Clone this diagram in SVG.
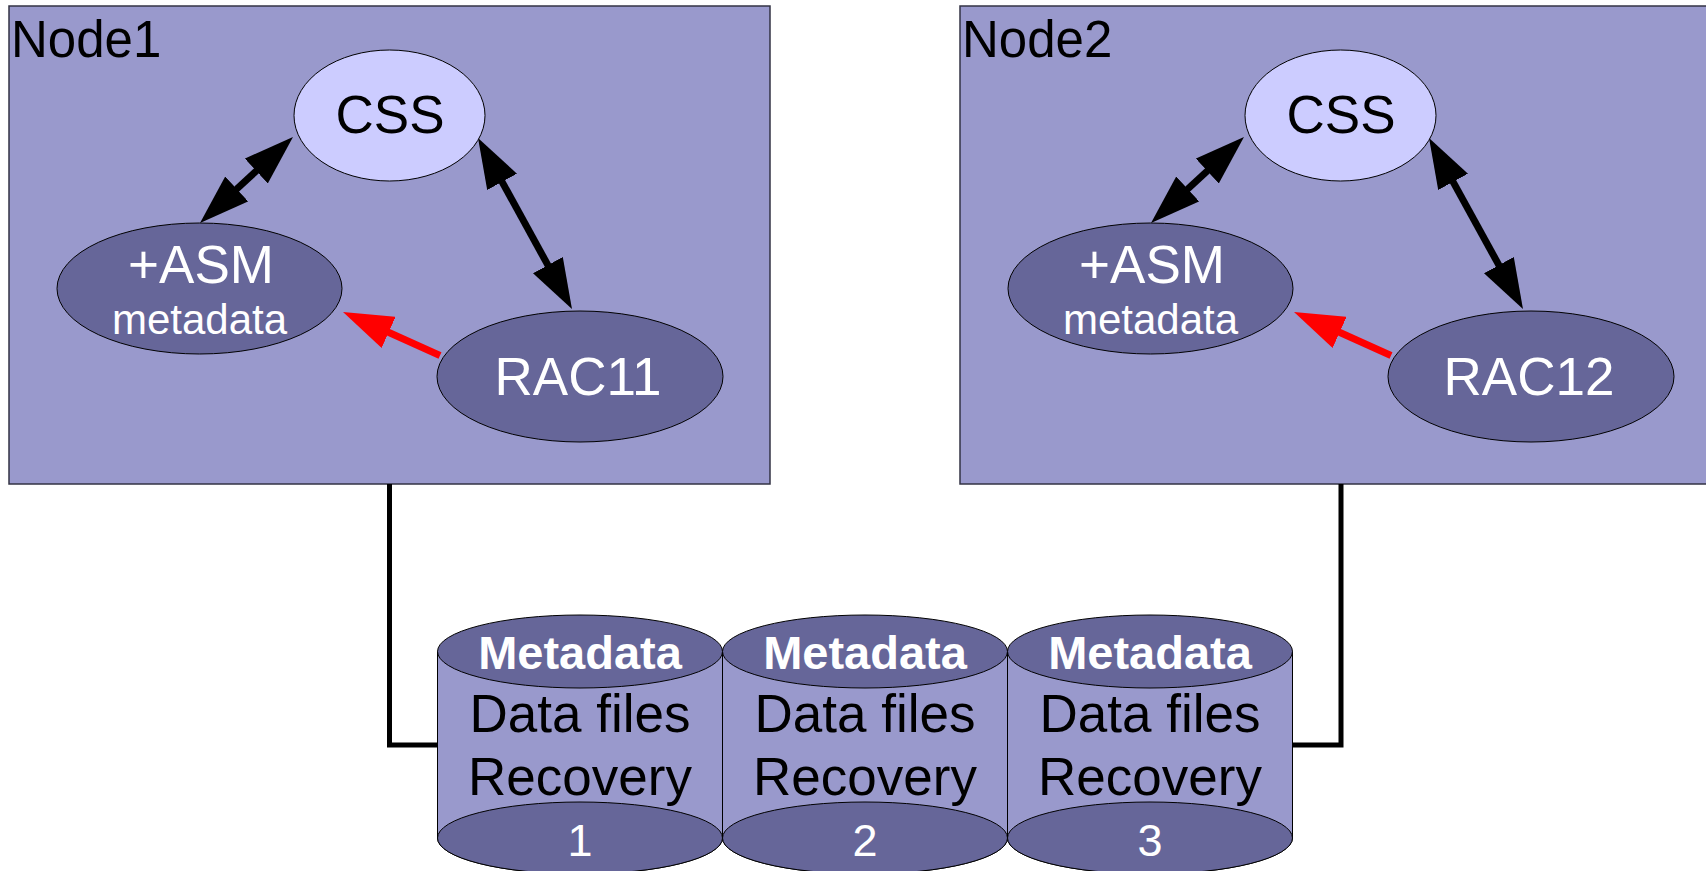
<svg xmlns="http://www.w3.org/2000/svg" width="1706" height="871" viewBox="0 0 1706 871">
<style>
.box{fill:#9999cc;stroke:#333344;stroke-width:1.5}
.css{fill:#ccccff;stroke:#000;stroke-width:1}
.dark{fill:#666699;stroke:#000;stroke-width:1}
.body{fill:#9999cc;stroke:#000;stroke-width:1}
text{font-family:"Liberation Sans",Arial,sans-serif}
.lbl{font-size:51px;fill:#000}
.w51{font-size:53px;fill:#fff;text-anchor:middle}
.w42{font-size:42px;fill:#fff;text-anchor:middle}
.b51{font-size:53px;fill:#000;text-anchor:middle}
.meta{font-size:47px;font-weight:bold;fill:#fff;text-anchor:middle}
.num{font-size:45px;fill:#fff;text-anchor:middle}
.blk{stroke:#000;stroke-width:7;fill:none}
.red{stroke:#ff0000;stroke-width:7;fill:none}
.wire{stroke:#000;stroke-width:5;fill:none}
</style>
<defs>
<marker id="ah" markerUnits="userSpaceOnUse" markerWidth="50" markerHeight="34" refX="10" refY="17" orient="auto-start-reverse" viewBox="0 0 50 34">
<path d="M0,0 L50,17 L0,34 Z" fill="#000"/>
</marker>
<marker id="ahr" markerUnits="userSpaceOnUse" markerWidth="50" markerHeight="34" refX="10" refY="17" orient="auto" viewBox="0 0 50 34">
<path d="M0,0 L50,17 L0,34 Z" fill="#ff0000"/>
</marker>
</defs>
<g id="node1">
<rect class="box" x="9" y="6" width="761" height="478"/>
<text class="lbl" x="11" y="57">Node1</text>
</g>
<g id="node2">
<rect class="box" x="960" y="6" width="761" height="478"/>
<text class="lbl" x="962" y="57">Node2</text>
</g>
<g id="connectors">
<line class="blk" x1="229.4" y1="195.8" x2="263.6" y2="164.2" marker-start="url(#ah)" marker-end="url(#ah)"/>
<line class="blk" x1="497.3" y1="173.1" x2="552.7" y2="273.9" marker-start="url(#ah)" marker-end="url(#ah)"/>
<line class="red" x1="440" y1="355.5" x2="379.5" y2="328.3" marker-end="url(#ahr)"/>
<line class="blk" x1="1180.4" y1="195.8" x2="1214.6" y2="164.2" marker-start="url(#ah)" marker-end="url(#ah)"/>
<line class="blk" x1="1448.3" y1="173.1" x2="1503.7" y2="273.9" marker-start="url(#ah)" marker-end="url(#ah)"/>
<line class="red" x1="1391" y1="355.5" x2="1330.5" y2="328.3" marker-end="url(#ahr)"/>
<polyline class="wire" points="389.5,484 389.5,745 437.5,745"/>
<polyline class="wire" points="1341,484 1341,745 1292.5,745"/>
</g>
<g id="css1">
<ellipse class="css" cx="389.5" cy="115.5" rx="95.5" ry="65.5"/>
<text class="b51" x="390" y="133">CSS</text>
</g>
<g id="asm1">
<ellipse class="dark" cx="199.5" cy="288.5" rx="142.5" ry="65.5"/>
<text class="w51" x="201" y="283">+ASM</text>
<text class="w42" x="199.5" y="334">metadata</text>
</g>
<g id="rac11">
<ellipse class="dark" cx="580" cy="376.5" rx="143" ry="65.5"/>
<text class="w51" x="578" y="395">RAC11</text>
</g>
<g id="css2">
<ellipse class="css" cx="1340.5" cy="115.5" rx="95.5" ry="65.5"/>
<text class="b51" x="1341" y="133">CSS</text>
</g>
<g id="asm2">
<ellipse class="dark" cx="1150.5" cy="288.5" rx="142.5" ry="65.5"/>
<text class="w51" x="1152" y="283">+ASM</text>
<text class="w42" x="1150.5" y="334">metadata</text>
</g>
<g id="rac12">
<ellipse class="dark" cx="1531" cy="376.5" rx="143" ry="65.5"/>
<text class="w51" x="1529" y="395">RAC12</text>
</g>
<g id="disk1">
<path class="body" d="M437.5,651.5 V838 A142.5,36 0 0 0 722.5,838 V651.5 Z"/>
<ellipse class="dark" cx="580" cy="838" rx="142.5" ry="36"/>
<ellipse class="dark" cx="580" cy="651.5" rx="142.5" ry="36.5"/>
<text class="meta" x="580" y="669">Metadata</text>
<text class="b51" x="580" y="732">Data files</text>
<text class="b51" x="580" y="795">Recovery</text>
<text class="num" x="580" y="856">1</text>
</g>
<g id="disk2">
<path class="body" d="M722.5,651.5 V838 A142.5,36 0 0 0 1007.5,838 V651.5 Z"/>
<ellipse class="dark" cx="865" cy="838" rx="142.5" ry="36"/>
<ellipse class="dark" cx="865" cy="651.5" rx="142.5" ry="36.5"/>
<text class="meta" x="865" y="669">Metadata</text>
<text class="b51" x="865" y="732">Data files</text>
<text class="b51" x="865" y="795">Recovery</text>
<text class="num" x="865" y="856">2</text>
</g>
<g id="disk3">
<path class="body" d="M1007.5,651.5 V838 A142.5,36 0 0 0 1292.5,838 V651.5 Z"/>
<ellipse class="dark" cx="1150" cy="838" rx="142.5" ry="36"/>
<ellipse class="dark" cx="1150" cy="651.5" rx="142.5" ry="36.5"/>
<text class="meta" x="1150" y="669">Metadata</text>
<text class="b51" x="1150" y="732">Data files</text>
<text class="b51" x="1150" y="795">Recovery</text>
<text class="num" x="1150" y="856">3</text>
</g>
</svg>
